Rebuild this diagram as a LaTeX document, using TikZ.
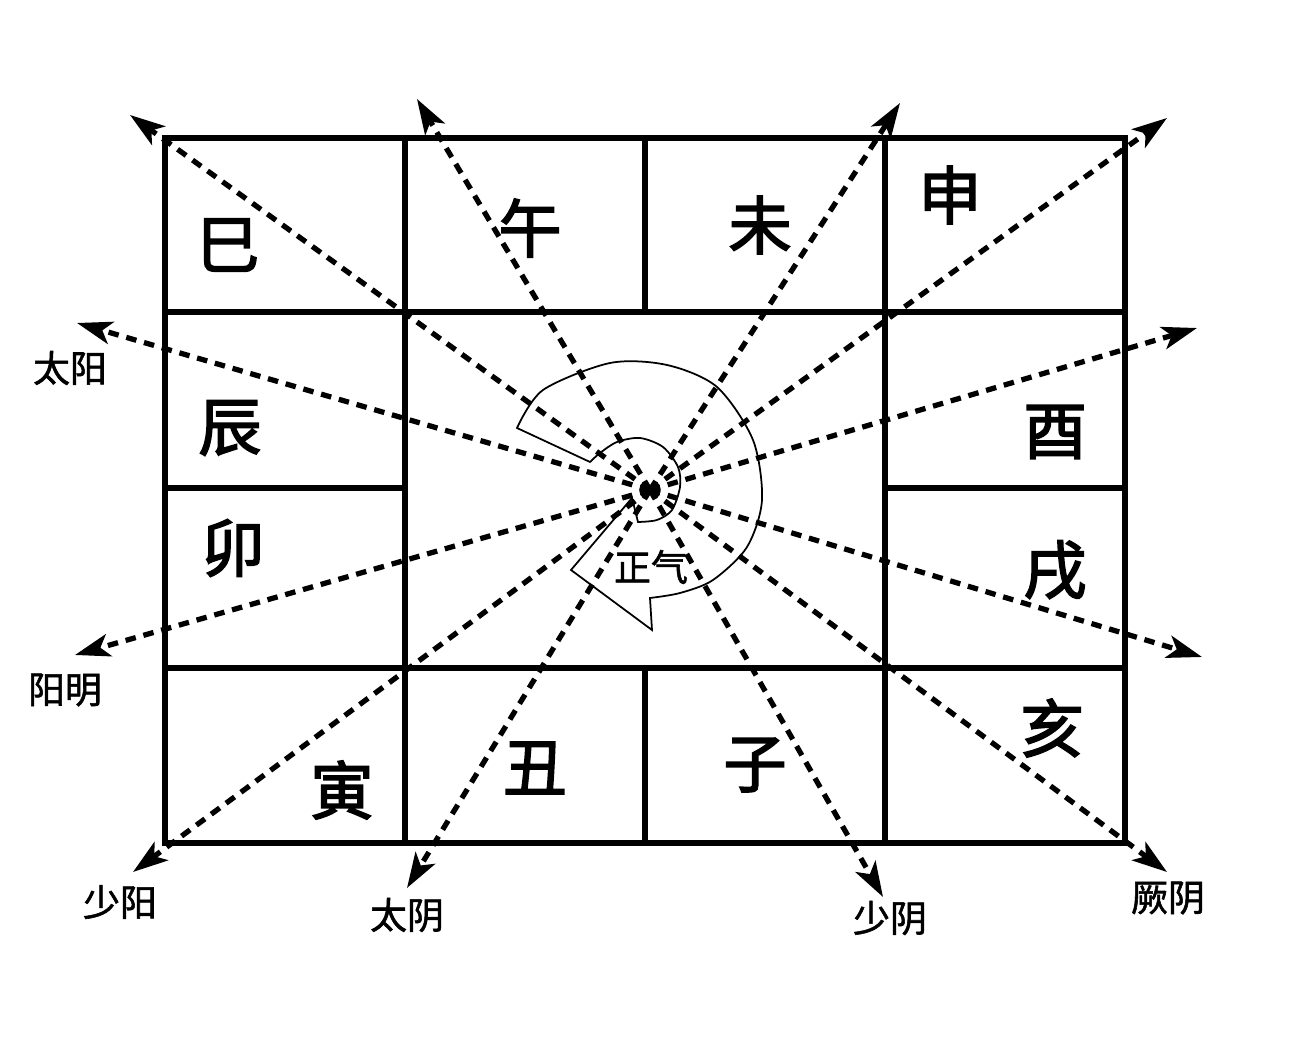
\documentclass[tikz,border=0pt]{standalone}
\usepackage{fontspec}
\newfontfamily\cjk{Noto Sans CJK SC}[FakeBold=2.5]
\newfontfamily\cjkl{Noto Sans CJK SC}[FakeBold=1.5]
\usetikzlibrary{arrows.meta}

\begin{document}
\begin{tikzpicture}[x=0.02cm,y=-0.02cm,
  gong/.style={font=\cjk\fontsize{36}{36}\selectfont},
  jing/.style={font=\cjkl\fontsize{21}{21}\selectfont},
  frame/.style={line width=3.2pt},
  ray/.style={line width=3pt,dash pattern=on 6pt off 4.5pt,
    -{Stealth[length=20pt,width=13pt,inset=5pt]}}]
  \useasboundingbox (0,0) rectangle (1303,1060);
  % the twelve palaces
  \draw[frame] (165,138) rectangle (1125,843);
  \draw[frame] (165,312) -- (1125,312) (165,668) -- (1125,668);
  \draw[frame] (165,488) -- (405,488) (885,488) -- (1125,488);
  \draw[frame] (405,138) -- (405,843) (885,138) -- (885,843);
  \draw[frame] (645,138) -- (645,312) (645,668) -- (645,843);
  \node[gong] (si)   at (228,245) {巳};
  \node[gong] (wu)   at (530,228) {午};
  \node[gong] (wei)  at (760,225) {未};
  \node[gong] (shen) at (950,195) {申};
  \node[gong] (chen) at (230,428) {辰};
  \node[gong] (mao)  at (233,548) {卯};
  \node[gong] (you)  at (1055,432) {酉};
  \node[gong] (xu)   at (1055,570) {戌};
  \node[gong] (yin)  at (342,790) {寅};
  \node[gong] (chou) at (535,768) {丑};
  \node[gong] (zi)   at (755,765) {子};
  \node[gong] (hai)  at (1052,728) {亥};
  % rays from the centre
  \coordinate (c) at (650,490);
  \coordinate (nw) at (130,115);
  \coordinate (nl) at (417,99);
  \coordinate (nr) at (900,103);
  \coordinate (ne) at (1167,118);
  \coordinate (eu) at (1197,328);
  \coordinate (el) at (1202,657);
  \coordinate (se) at (1167,872);
  \coordinate (sr) at (883,897);
  \coordinate (sl) at (407,888);
  \coordinate (sw) at (133,872);
  \coordinate (wl) at (75,655);
  \coordinate (wup) at (77,323);
  \foreach \t in {nw,nl,nr,ne,eu,el,se,sr,sl,sw,wl,wup}
    \draw[ray] (c) -- (\t);
  \node[jing] (taiyang)   at (70,368)   {太阳};
  \node[jing] (yangming)  at (65,690)   {阳明};
  \node[jing] (shaoyang)  at (120,902)  {少阳};
  \node[jing] (taiyin)    at (407,915)  {太阴};
  \node[jing] (shaoyin)   at (890,918)  {少阴};
  \node[jing] (jueyin)    at (1168,898) {厥阴};
  % spiral of zhengqi
  \draw[line width=1pt,line join=miter]
    plot[smooth] coordinates {(517,428) (543,390) (610,363) (667,365) (717,387)
      (753,440) (762,500) (747,547) (713,580) (680,593) (650,598)}
    -- (652,630) -- (571,570) -- (632,498)
    -- plot[smooth] coordinates {(638,522) (657,520) (672,510) (680,487) (678,467)
      (663,447) (640,438) (617,442) (600,453) (590,462)}
    -- cycle;
  \node[font=\cjkl\fontsize{21}{21}\selectfont] (zhengqi) at (651,567) {正气};
\end{tikzpicture}
\end{document}
